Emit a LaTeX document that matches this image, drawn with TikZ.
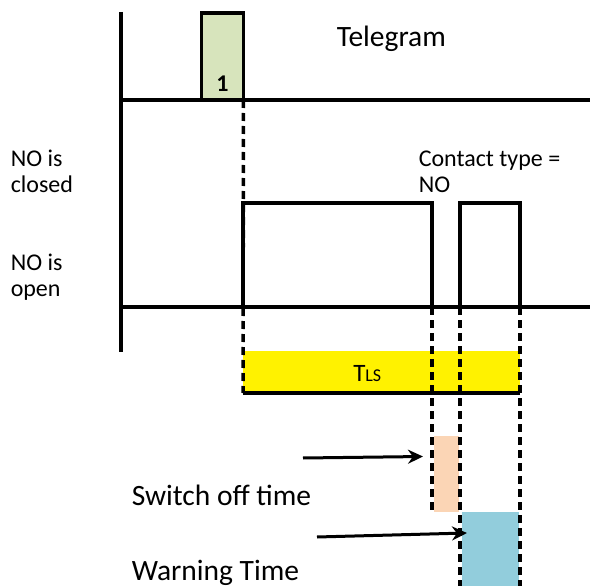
\documentclass[tikz,border=0pt]{standalone}
\usepackage{fontspec}
\setmainfont{Carlito}
\usetikzlibrary{arrows.meta}

\begin{document}
\begin{tikzpicture}[x=1pt, y=-1pt, line width=3.5pt,
    guide/.style={dash pattern=on 8pt off 5pt, line width=3.5pt},
    box/.style={inner sep=0pt, outer sep=0pt},
    txt/.style={anchor=base west, inner sep=0pt, font=\fontsize{24}{26}\selectfont},
    bigtxt/.style={anchor=base west, inner sep=0pt, font=\fontsize{29.5}{34}\selectfont},
    pointer/.style={-{Stealth[length=15pt, width=14pt]}, line width=3pt}]
    \useasboundingbox (0,0) rectangle (590,586);
    % boxes
    \node[box, draw, fill={rgb,255:red,215;green,228;blue,188}, minimum width=42pt, minimum height=87pt] (tele) at (222.5,56.5) {};
    \node[box, fill=yellow, minimum width=277pt, minimum height=42pt] (tls) at (381.5,372) {};
    \node[box, fill={rgb,255:red,251;green,213;blue,181}, minimum width=25pt, minimum height=76pt] (off) at (446.5,474) {};
    \node[box, fill={rgb,255:red,146;green,205;blue,220}, minimum width=57pt, minimum height=74pt] (warn) at (490.5,549) {};
    \draw (tls.south west) -- (tls.south east);
    % axes
    \draw (121,12) -- (121,352);
    \draw (121,100) -- (590,100);
    \draw (121,307) -- (590,307);
    % contact signal
    \coordinate (r1) at (243,307);
    \coordinate (f1) at (432,307);
    \coordinate (r2) at (460,307);
    \coordinate (f2) at (520,307);
    \draw[line width=4pt, line join=miter] (r1) -- (243,203) -- (432,203) -- (f1);
    \draw[line width=4pt, line join=miter] (r2) -- (460,203) -- (520,203) -- (f2);
    % guide lines
    \draw[guide] (tele.south east) -- (r1 |- tls.south);
    \draw[guide] (f1) -- (f1 |- off.south);
    \draw[guide] (r2) -- (460,586);
    \draw[guide] (f2) -- (520,586);
    % labels
    \node[anchor=base, inner sep=0pt, font=\fontsize{24}{26}\selectfont\bfseries] (one) at (tele.center |- 0,92) {1};
    \node[bigtxt] (telegram) at (335,47) {Telegram};
    \node[txt] (contact) at (417,167) {Contact type =};
    \node[txt] (contactno) at (417,193) {NO};
    \node[txt] (closed1) at (9,167) {NO is};
    \node[txt] (closed2) at (9,193) {closed};
    \node[txt] (open1) at (9,270) {NO is};
    \node[txt] (open2) at (9,296) {open};
    \node[anchor=base west, inner sep=0pt] (tlslabel) at (351.5,381.5) {\fontsize{25}{28}\selectfont T\fontsize{18}{20}\selectfont LS};
    \node[bigtxt] (offtext) at (130,505) {Switch off time};
    \node[bigtxt] (warntext) at (130,580) {Warning Time};
    % pointers
    \coordinate (offstart) at (303,458);
    \coordinate (offend) at (423,456.5);
    \coordinate (warnstart) at (317,537);
    \coordinate (warnend) at (467,533);
    \draw[pointer] (offstart) -- (offend);
    \draw[pointer] (warnstart) -- (warnend);
\end{tikzpicture}
\end{document}
